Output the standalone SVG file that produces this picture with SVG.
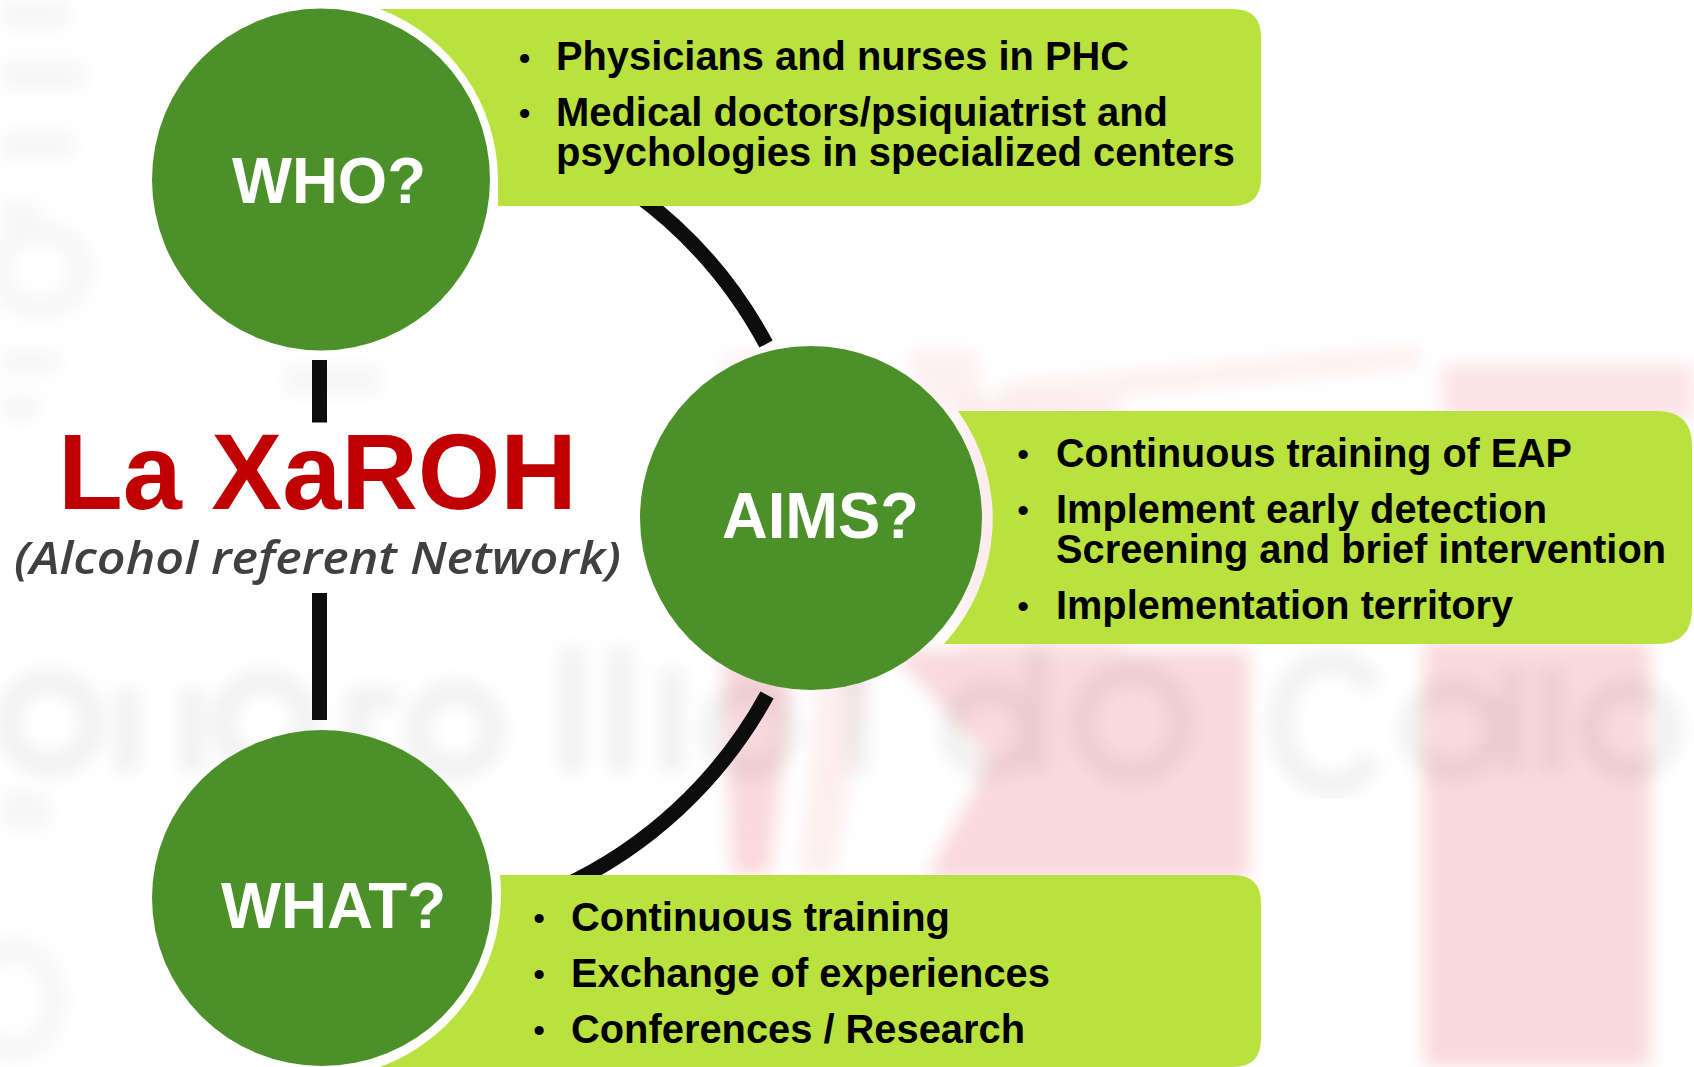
<svg xmlns="http://www.w3.org/2000/svg" width="1694" height="1067" viewBox="0 0 1694 1067">
<defs>
<filter id="b" x="-10%" y="-10%" width="120%" height="120%"><feGaussianBlur stdDeviation="9"/></filter>
<filter id="s" x="-10%" y="-10%" width="120%" height="120%"><feGaussianBlur stdDeviation="9"/></filter>
</defs>
<style>
.c{fill:#4c9029}
.b{fill:#bae23f}
.l{font:bold 64px "Liberation Sans",Arial,sans-serif;fill:#fff}
.t{font:bold 41px "Liberation Sans",Arial,sans-serif;fill:#000}
.d{font:bold 32px "Liberation Sans",Arial,sans-serif;fill:#000}
.k{fill:none;stroke:#0d0d0d;stroke-width:15}
.r{fill:none;stroke:#000;stroke-width:24}
.v{fill:#000}
</style>
<rect width="1694" height="1067" fill="#fff"/>
<g id="background">
<g filter="url(#b)" fill="#f9d9dd">
<path d="M722 640H795L770 875H732Z"/>
<path d="M820 650H870L835 875H800Z" fill-opacity=".45"/>
<path d="M890 650H1249V880H925L990 760Z"/>
<path d="M1424 640H1650V1067H1424Z"/>
<path d="M1442 365H1694V420H1442Z" fill-opacity=".75"/>
<path d="M1000 382L1420 345V368L1000 408Z" fill-opacity=".4"/>
<path d="M905 350H975L985 410H925Z" fill-opacity=".4"/>
<path d="M720 350H770L780 400H725Z" fill-opacity=".25"/>
<path d="M960 400H1120V660H960Z" fill-opacity=".5"/>
</g>
<g filter="url(#s)" opacity=".055" transform="translate(0 8)">
<ellipse class="r" cx="50" cy="715" rx="42" ry="42"/>
<path class="v" d="M115 680h24v85h-24zM180 680h24v85h-24z"/>
<ellipse class="r" cx="265" cy="715" rx="42" ry="42"/>
<path class="v" d="M345 680h24v85h-24zM369 680h30v22h-30z"/>
<ellipse class="r" cx="455" cy="722" rx="38" ry="38"/>
<path class="v" d="M560 640h24v125h-24zM608 640h24v125h-24zM660 660h24v105h-24z"/>
<ellipse class="r" cx="750" cy="722" rx="38" ry="38"/>
<path class="v" d="M845 660h24v105h-24z"/>
<ellipse class="r" cx="990" cy="722" rx="38" ry="38"/>
<path class="v" d="M1026 640h22v125h-22z"/>
<ellipse class="r" cx="1132" cy="715" rx="50" ry="50"/>
<path class="r" d="M1372 680A50 62 0 1 0 1372 750"/>
<ellipse class="r" cx="1453" cy="722" rx="42" ry="40"/>
<path class="v" d="M1500 660h24v105h-24zM1540 660h24v105h-24z"/>
<ellipse class="r" cx="1630" cy="722" rx="40" ry="40"/>
</g>
<g filter="url(#s)" opacity=".03">
<path class="v" d="M0 0H70V30H0zM0 60H85V90H0zM0 130H75V160H0zM0 200H40V225H0z"/>
<ellipse class="r" cx="40" cy="270" rx="42" ry="38"/>
<path class="v" d="M0 350H60V375H0zM0 395H40V420H0z"/>
<path class="v" d="M285 365H380V395H285z"/>
<path class="v" d="M0 790H50V830H0z"/>
<ellipse class="r" cx="15" cy="1000" rx="40" ry="50"/>
</g>
</g>
<g id="connectors">
<path class="k" d="M319.500 360V422.500"/>
<path class="k" d="M319.500 593V720"/>
<path class="k" d="M636 194A450 450 0 0 1 766 344"/>
<path class="k" d="M767 695A450 450 0 0 1 560 888"/>
</g>
<g id="who">
<path class="b" d="M380 9H1233Q1261 9 1261 37V178Q1261 206 1233 206H498V180A184 184 0 0 0 380 9Z"/>
<ellipse class="c" cx="321" cy="179.500" rx="169" ry="171"/>
<text class="l" x="232" y="203" textLength="194" lengthAdjust="spacingAndGlyphs">WHO?</text>
<text class="d" x="519" y="69">•</text>
<text class="t" x="556" y="70" textLength="573" lengthAdjust="spacingAndGlyphs">Physicians and nurses in PHC</text>
<text class="d" x="519" y="124">•</text>
<text class="t" x="556" y="126" textLength="612" lengthAdjust="spacingAndGlyphs">Medical doctors/psiquiatrist and</text>
<text class="t" x="556" y="166" textLength="679" lengthAdjust="spacingAndGlyphs">psychologies in specialized centers</text>
</g>
<g id="aims">
<path class="b" d="M958 411H1657Q1692 411 1692 446V609Q1692 644 1657 644H944A185 185 0 0 0 958 411Z"/>
<ellipse class="c" cx="811" cy="518" rx="171" ry="172"/>
<text class="l" x="722" y="538" textLength="197" lengthAdjust="spacingAndGlyphs">AIMS?</text>
<text class="d" x="1017.500" y="465">•</text>
<text class="t" x="1056" y="467" textLength="516" lengthAdjust="spacingAndGlyphs">Continuous training of EAP</text>
<text class="d" x="1017.500" y="521">•</text>
<text class="t" x="1056" y="523" textLength="491" lengthAdjust="spacingAndGlyphs">Implement early detection</text>
<text class="t" x="1056" y="563" textLength="610" lengthAdjust="spacingAndGlyphs">Screening and brief intervention</text>
<text class="d" x="1017.500" y="617">•</text>
<text class="t" x="1056" y="619" textLength="457" lengthAdjust="spacingAndGlyphs">Implementation territory</text>
</g>
<g id="what">
<path class="b" d="M500 875H1233Q1261 875 1261 903V1039Q1261 1067 1233 1067H380A184 184 0 0 0 500 875Z"/>
<ellipse class="c" cx="322" cy="898" rx="170" ry="168"/>
<text class="l" x="221" y="928" textLength="225" lengthAdjust="spacingAndGlyphs">WHAT?</text>
<text class="d" x="533.500" y="929">•</text>
<text class="t" x="571" y="931" textLength="379" lengthAdjust="spacingAndGlyphs">Continuous training</text>
<text class="d" x="533.500" y="985">•</text>
<text class="t" x="571" y="987" textLength="479" lengthAdjust="spacingAndGlyphs">Exchange of experiences</text>
<text class="d" x="533.500" y="1041">•</text>
<text class="t" x="571" y="1043" textLength="454" lengthAdjust="spacingAndGlyphs">Conferences / Research</text>
</g>
<g id="title">
<text x="58" y="509" textLength="519" lengthAdjust="spacingAndGlyphs" style="font:bold 107px 'Liberation Sans',Arial,sans-serif;fill:#c00000">La XaROH</text>
<text x="14" y="574" textLength="607" lengthAdjust="spacingAndGlyphs" style="font:italic 600 46px 'Open Sans',Lato,sans-serif;fill:#404040">(Alcohol referent Network)</text>
</g>
</svg>
